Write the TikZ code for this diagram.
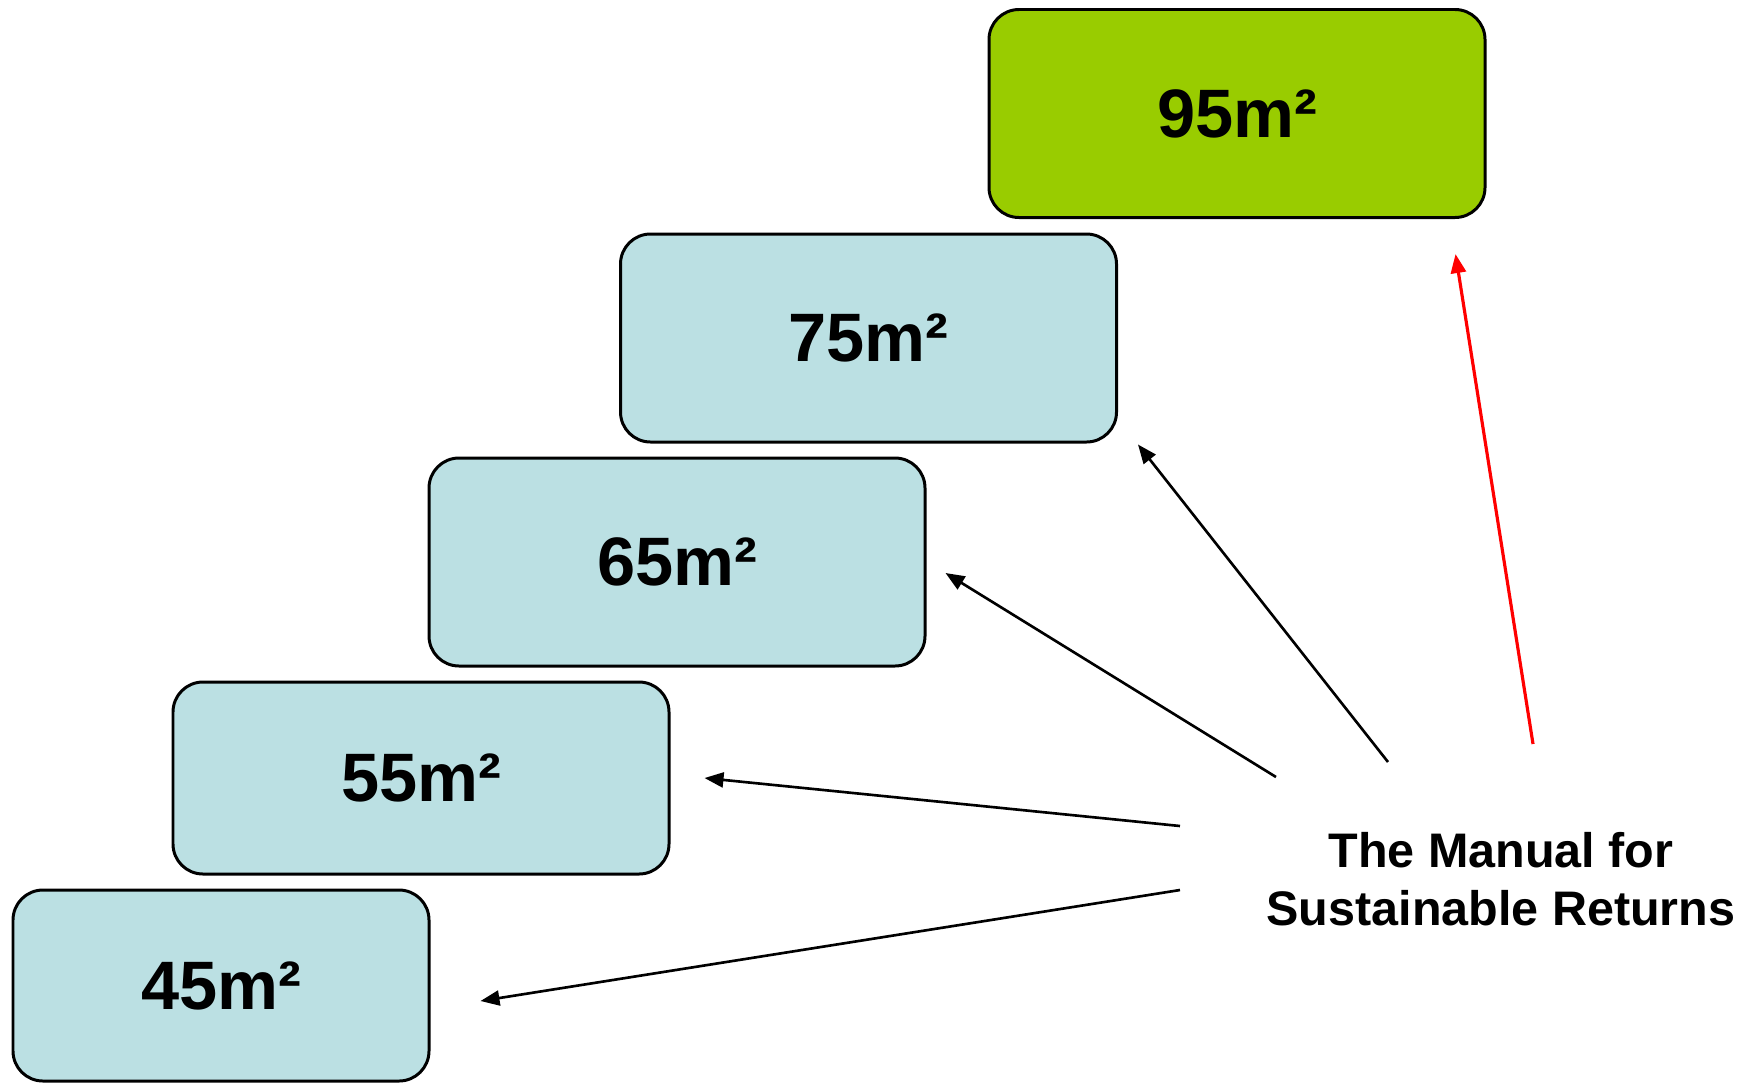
\documentclass[tikz,border=0pt]{standalone}
\usepackage{fontspec}
\setmainfont{Liberation Sans}
\usepackage{tikz}
\usetikzlibrary{arrows.meta}
\definecolor{roomblue}{HTML}{BBE0E3}
\definecolor{roomgreen}{HTML}{99CC00}

\begin{document}
\begin{tikzpicture}[
  room/.style={draw, line width=0.85pt, rounded corners=0.3cm, fill=roomblue,
    minimum width=4.96cm, minimum height=2.08cm, inner sep=0pt,
    font=\fontsize{19.5}{23}\selectfont\bfseries},
  link/.style={line width=0.75pt, -{Triangle[length=0.19cm,width=0.15cm]}}]
\useasboundingbox (0,0) rectangle (17.47,-10.82);
\node[room, fill=roomgreen] (m95) at (12.37,-1.135) {95m²};
\node[room] (m75) at (8.685,-3.38) {75m²};
\node[room] (m65) at (6.77,-5.62) {65m²};
\node[room, minimum height=1.92cm] (m55) at (4.21,-7.78) {55m²};
\node[room, minimum width=4.16cm, minimum height=1.91cm] (m45) at (2.21,-9.855) {45m²};
\node[align=center, font=\fontsize{13.8}{16.5}\selectfont\bfseries] (manual) at (15.01,-8.79)
  {The Manual for\\Sustainable Returns};
\coordinate (f95) at (15.33,-7.44);
\coordinate (f75) at (13.88,-7.62);
\coordinate (f65) at (12.76,-7.77);
\coordinate (f55) at (11.80,-8.26);
\coordinate (f45) at (11.80,-8.90);
\draw[link, red, line width=0.9pt] (f95) -- ([xshift=-0.31cm,yshift=-0.35cm]m95.south east);
\draw[link] (f75) -- ([xshift=0.2cm,yshift=-0.01cm]m75.south east);
\draw[link] (f65) -- ([xshift=0.19cm,yshift=-0.11cm]m65.east);
\draw[link] (f55) -- ([xshift=0.34cm]m55.east);
\draw[link] (f45) -- ([xshift=0.5cm,yshift=-0.155cm]m45.east);
\end{tikzpicture}
\end{document}
